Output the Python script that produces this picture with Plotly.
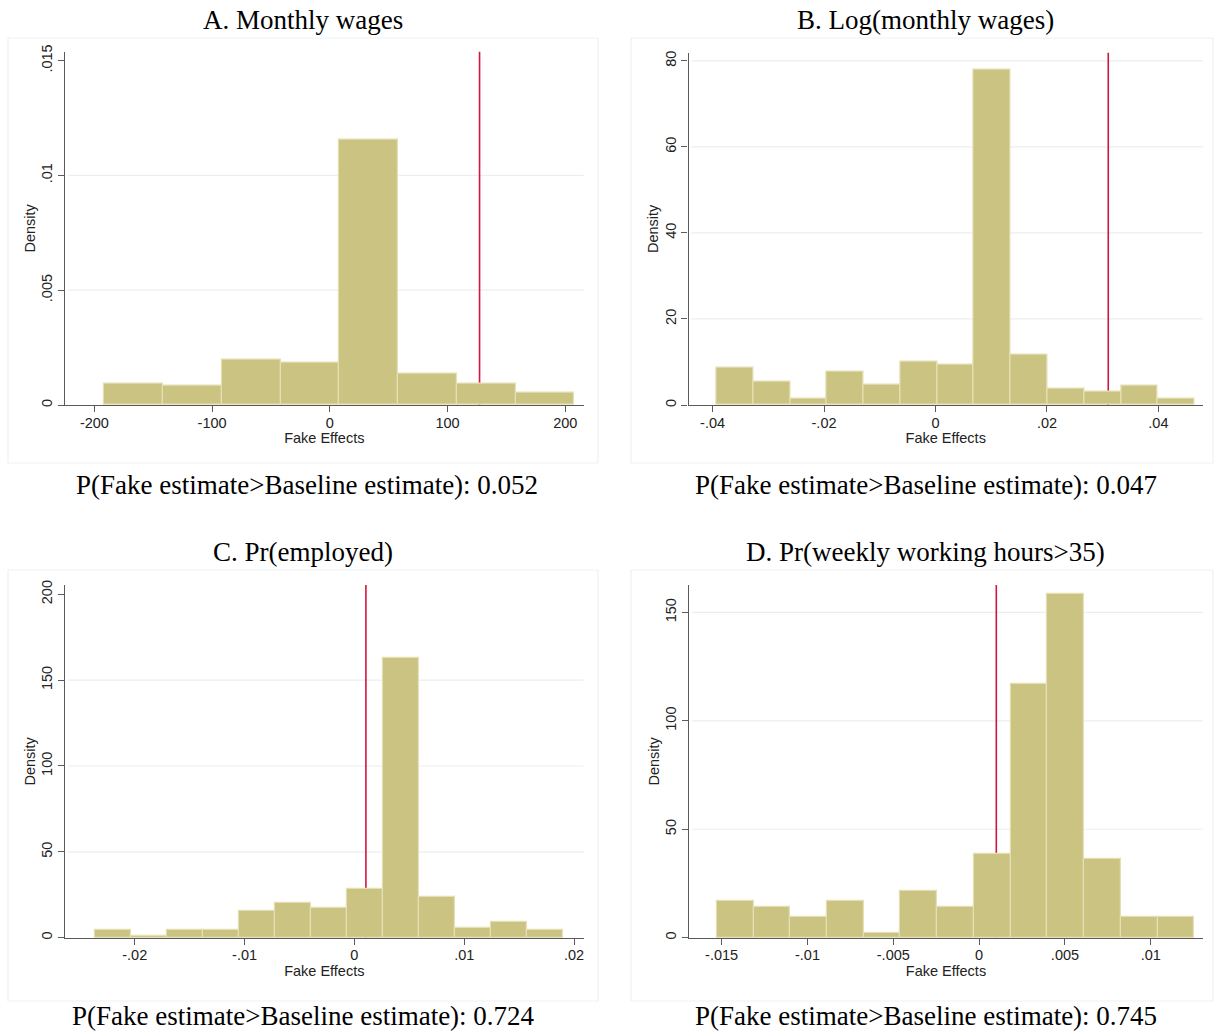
import plotly.graph_objects as go

# ---------------- data ----------------
titles = ["A. Monthly wages", "B. Log(monthly wages)", "C. Pr(employed)",
          "D. Pr(weekly working hours>35)"]
p_values = ["0.052", "0.047", "0.724", "0.745"]

a_start, a_width = -191.5, 49.9
a_density = [0.00093, 0.00082, 0.00197, 0.00186, 0.01156, 0.00135, 0.00093, 0.00052]
a_baseline = 127.2

b_start, b_width = -0.0393, 0.0066
b_density = [8.6, 5.5, 1.55, 7.8, 4.65, 10.1, 9.4, 78.0, 11.8, 3.9, 3.1, 4.6, 1.5]
b_baseline = 0.031

c_start, c_width = -0.02366, 0.003278
c_density = [4.5, 1.2, 4.3, 4.3, 15.5, 20.4, 17.1, 28.3, 163.1, 23.5, 5.8, 9.1, 4.5]
c_baseline = 0.00105

d_start, d_width = -0.015276, 0.002139
d_density = [16.8, 14.3, 9.4, 16.8, 2.0, 21.7, 14.3, 38.7, 116.8, 158.4, 36.3, 9.4, 9.4]
d_baseline = 0.001

a_xticks = [-200, -100, 0, 100, 200]
a_xlabels = ["-200", "-100", "0", "100", "200"]
a_yticks = [0, 0.005, 0.01, 0.015]
a_ylabels = ["0", ".005", ".01", ".015"]

b_xticks = [-0.04, -0.02, 0, 0.02, 0.04]
b_xlabels = ["-.04", "-.02", "0", ".02", ".04"]
b_yticks = [0, 20, 40, 60, 80]
b_ylabels = ["0", "20", "40", "60", "80"]

c_xticks = [-0.02, -0.01, 0, 0.01, 0.02]
c_xlabels = ["-.02", "-.01", "0", ".01", ".02"]
c_yticks = [0, 50, 100, 150, 200]
c_ylabels = ["0", "50", "100", "150", "200"]

d_xticks = [-0.015, -0.01, -0.005, 0, 0.005, 0.01]
d_xlabels = ["-.015", "-.01", "-.005", "0", ".005", ".01"]
d_yticks = [0, 50, 100, 150]
d_ylabels = ["0", "50", "100", "150"]

# ---------------- layout geometry ----------------
W, H = 1214, 1031
BAR = "#CBC381"
BAR_EDGE = "#E4DFB5"
RED = "#D1163F"
GRID = "#E8F0F2"
AXIS = "#5A5A5A"
SANS = "Liberation Sans, Arial"
SERIF = "Liberation Serif, Times New Roman"

panels = [
    dict(start=a_start, width=a_width, dens=a_density, base=a_baseline,
         xt=a_xticks, xl=a_xlabels, yt=a_yticks, yl=a_ylabels,
         xr=[-225, 215.6], yr=[0, 0.01539], px=(65, 583.6), py=(51.7, 405),
         grid=[0.005, 0.01]),
    dict(start=b_start, width=b_width, dens=b_density, base=b_baseline,
         xt=b_xticks, xl=b_xlabels, yt=b_yticks, yl=b_ylabels,
         xr=[-0.04432, 0.048], yr=[0, 81.9], px=(688.5, 1203), py=(52.7, 405),
         grid=[20, 40, 60, 80]),
    dict(start=c_start, width=c_width, dens=c_density, base=c_baseline,
         xt=c_xticks, xl=c_xlabels, yt=c_yticks, yl=c_ylabels,
         xr=[-0.02635, 0.02087], yr=[0, 205.4], px=(65, 583.6), py=(585, 937.7),
         grid=[50, 100, 150]),
    dict(start=d_start, width=d_width, dens=d_density, base=d_baseline,
         xt=d_xticks, xl=d_xlabels, yt=d_yticks, yl=d_ylabels,
         xr=[-0.0169, 0.01304], yr=[0, 162.6], px=(689, 1203), py=(585, 937.7),
         grid=[50, 100, 150]),
]

fig = go.Figure()
shapes = []
annotations = []
layout = {}

title_pos = [(303, 20), (926, 20), (303, 552), (926, 552)]
p_pos = [(307, 485), (926, 485), (303, 1016), (926, 1016)]
boxes = [(8, 38, 598, 463), (631, 38, 1213, 463), (8, 570, 598, 1001), (631, 570, 1213, 1001)]

for i, p in enumerate(panels):
    n = i + 1
    xa = "x" if n == 1 else f"x{n}"
    ya = "y" if n == 1 else f"y{n}"
    lefts = [p["start"] + k * p["width"] for k in range(len(p["dens"]))]
    fig.add_trace(go.Bar(
        x=lefts, y=p["dens"], width=[p["width"]] * len(lefts), offset=0,
        marker=dict(color=BAR, line=dict(color=BAR_EDGE, width=1.2)),
        xaxis=xa, yaxis=ya, showlegend=False, hoverinfo="x+y"))

    xd = [p["px"][0] / W, p["px"][1] / W]
    yd = [1 - p["py"][1] / H, 1 - p["py"][0] / H]
    xkey = "xaxis" if n == 1 else f"xaxis{n}"
    ykey = "yaxis" if n == 1 else f"yaxis{n}"
    layout[xkey] = dict(
        domain=xd, range=p["xr"], anchor=ya, tickmode="array",
        tickvals=p["xt"], ticktext=p["xl"], showgrid=False, zeroline=False,
        showline=True, linecolor=AXIS, linewidth=1.2, ticks="outside",
        ticklen=6, tickcolor=AXIS, tickwidth=1.2, ticklabelstandoff=-2,
        tickfont=dict(family=SANS, size=14.5, color="#222"),
        title=dict(text="Fake Effects", standoff=0,
                   font=dict(family=SANS, size=14.5, color="#222")),
        automargin=False)
    layout[ykey] = dict(
        domain=yd, range=p["yr"], anchor=xa, tickmode="array",
        tickvals=p["yt"], ticktext=p["yl"], tickangle=-90, showgrid=False,
        zeroline=False, showline=True, linecolor=AXIS, linewidth=1.2,
        ticks="outside", ticklen=6, tickcolor=AXIS, tickwidth=1.2,
        tickfont=dict(family=SANS, size=14.5, color="#222"),
        title=dict(text="Density", standoff=0,
                   font=dict(family=SANS, size=14.5, color="#222")),
        automargin=False)

    # gridlines (behind bars)
    for g in p["grid"]:
        shapes.append(dict(type="line", xref=f"{xa} domain", yref=ya,
                           x0=0.005, x1=1, y0=g, y1=g, layer="below",
                           line=dict(color=GRID, width=1.2)))
    # baseline estimate line (behind bars)
    shapes.append(dict(type="line", xref=xa, yref=f"{ya} domain",
                       x0=p["base"], x1=p["base"], y0=0, y1=1, layer="below",
                       line=dict(color=RED, width=1.6)))
    # panel border
    bx0, by0, bx1, by1 = boxes[i]
    shapes.append(dict(type="rect", xref="paper", yref="paper",
                       x0=bx0 / W, x1=bx1 / W, y0=1 - by1 / H, y1=1 - by0 / H,
                       layer="below", line=dict(color="#EDF1F3", width=1.2)))

    tx, ty = title_pos[i]
    annotations.append(dict(text=titles[i], x=tx / W, y=1 - ty / H,
                            xref="paper", yref="paper", showarrow=False,
                            xanchor="center", yanchor="middle",
                            font=dict(family=SERIF, size=27, color="#000")))
    qx, qy = p_pos[i]
    annotations.append(dict(text="P(Fake estimate>Baseline estimate): " + p_values[i],
                            x=qx / W, y=1 - qy / H, xref="paper", yref="paper",
                            showarrow=False, xanchor="center", yanchor="middle",
                            font=dict(family=SERIF, size=27, color="#000")))

fig.update_layout(
    width=W, height=H, margin=dict(l=0, r=0, t=0, b=0),
    paper_bgcolor="white", plot_bgcolor="white", bargap=0,
    shapes=shapes, annotations=annotations, **layout)

fig.write_html("out.html")
